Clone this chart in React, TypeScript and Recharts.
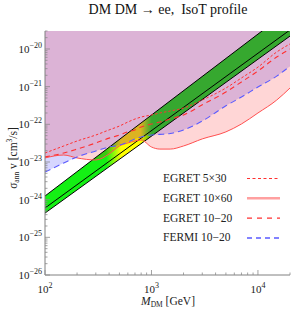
import React from 'react';
import { ComposedChart, Area, Line, XAxis, YAxis } from 'recharts';

// ---- data ----
const masses = [100, 150, 200, 300, 400, 500, 600, 700, 800, 1000, 1200, 1500, 2000, 3000, 5000, 7000, 10000, 15000, 20000];
const fermi1020 = [5.4e-24, 9.4e-24, 1.36e-23, 1.96e-23, 2.5e-23, 2.8e-23, 3.4e-23, 4.1e-23, 4.6e-23, 5.2e-23, 5.4e-23, 5.7e-23, 7.1e-23, 1.22e-22, 3.1e-22, 5.3e-22, 9.8e-22, 1.9e-21, 3.5e-21];
const egret10x60 = [1.28e-23, 1.53e-23, 1.28e-23, 1.13e-23, 1.63e-23, 2.66e-23, 3.2e-23, 3.6e-23, 3.84e-23, 2.5e-23, 2.2e-23, 2.2e-23, 2.66e-23, 4.1e-23, 6.3e-23, 1.02e-22, 2.0e-22, 4.4e-22, 9.2e-22];
const egret5x30 = [1.73e-23, 2.66e-23, 3.6e-23, 5.2e-23, 7.1e-23, 9.0e-23, 1.15e-22, 1.38e-22, 1.56e-22, 1.77e-22, 2.0e-22, 2.26e-22, 2.7e-22, 4.4e-22, 9.2e-22, 1.7e-21, 3.3e-21, 8.3e-21, 1.36e-20];
const egret1020 = [1.36e-23, 1.73e-23, 2.2e-23, 3.2e-23, 4.3e-23, 5.2e-23, 6.3e-23, 7.1e-23, 8.5e-23, 1.02e-22, 1.15e-22, 1.38e-22, 1.77e-22, 3.3e-22, 7.2e-22, 1.33e-21, 2.6e-21, 6.1e-21, 1.0e-20];

const bandMasses = [100, 20000];
const bandUpper = [1.25e-24, 1.1e-19];
const bandMid = [6.0e-25, 3.2e-20];
const bandLower = [4.4e-25, 2.2e-20];

const xMajor = [100, 1000, 10000];
const yMajor = [1e-26, 1e-25, 1e-24, 1e-23, 1e-22, 1e-21, 1e-20];
const minorMult = [2, 3, 4, 5, 6, 7, 8, 9];
const X_DOMAIN = [100, 20000];
const Y_DOMAIN = [1e-26, 3e-20];

const legendNames = ['EGRET 5×30', 'EGRET 10×60', 'EGRET 10−20', 'FERMI 10−20'];
const title = 'DM DM → ee,\u00A0 IsoT profile';

// ---- derived tables ----
const curveData = masses.map((m, i) => ({
  m,
  fermi: fermi1020[i],
  e1060: egret10x60[i],
  e530: egret5x30[i],
  e1020: egret1020[i],
}));
const bandData = bandMasses.map((m, i) => ({ m, hi: bandUpper[i], mid: bandMid[i], lo: bandLower[i] }));

const xTicks: number[] = [];
xMajor.forEach((d) => { xTicks.push(d); minorMult.forEach((k) => { const v = k * d; if (v <= X_DOMAIN[1]) xTicks.push(v); }); });
const yTicks: number[] = [];
yMajor.forEach((d) => { yTicks.push(d); minorMult.forEach((k) => { const v = k * d; if (v < Y_DOMAIN[1]) yTicks.push(v); }); });

const FONT = "'Liberation Serif', 'Times New Roman', serif";
const GRAY = '#808080';
const TICK = '#8a8a8a';

const isMajor = (arr: number[], v: number) => arr.some((a) => Math.abs(a - v) / a < 1e-6);

const YTickLeft = (p: any) => {
  const { x, y, payload } = p;
  const v = payload.value;
  const major = isMajor(yMajor, v);
  const exp = Math.round(Math.log10(v));
  return (
    <g>
      <line x1={x} x2={x + (major ? 5 : 2.5)} y1={y} y2={y} stroke={TICK} strokeWidth={0.8} />
      {major && (
        <text x={x - 3} y={y + 4} textAnchor="end" fontSize={11} fontFamily={FONT} fill="#222">
          10<tspan dy={-5} fontSize={8}>{'−' + Math.abs(exp)}</tspan>
        </text>
      )}
    </g>
  );
};
const YTickRight = (p: any) => {
  const { x, y, payload } = p;
  const major = isMajor(yMajor, payload.value);
  return <line x1={x} x2={x - (major ? 5 : 2.5)} y1={y} y2={y} stroke={TICK} strokeWidth={0.8} />;
};
const XTickBottom = (p: any) => {
  const { x, y, payload } = p;
  const v = payload.value;
  const major = isMajor(xMajor, v);
  const exp = Math.round(Math.log10(v));
  return (
    <g>
      <line x1={x} x2={x} y1={y} y2={y - (major ? 5 : 2.5)} stroke={TICK} strokeWidth={0.8} />
      {major && (
        <text x={x} y={y + 18} textAnchor="middle" fontSize={11} fontFamily={FONT} fill="#222">
          10<tspan dy={-5} fontSize={8}>{String(exp)}</tspan>
        </text>
      )}
    </g>
  );
};
const XTickTop = (p: any) => {
  const { x, y, payload } = p;
  const major = isMajor(xMajor, payload.value);
  return <line x1={x} x2={x} y1={y} y2={y + (major ? 5 : 2.5)} stroke={TICK} strokeWidth={0.8} />;
};

const legendStyles = [
  { stroke: '#ff3030', dash: '3 2.5', width: 1 },
  { stroke: '#ffa0a0', dash: undefined, width: 2.5 },
  { stroke: '#ff3030', dash: '5 5', width: 1.2 },
  { stroke: '#5a5aff', dash: '5 4', width: 1.5 },
];

export default function App() {
  return (
    <div style={{ position: 'absolute', left: 0, top: 0, width: 294, height: 309, background: '#fff' }}>
      <ComposedChart width={294} height={309} margin={{ top: 31, right: 4, bottom: 0, left: 0 }}>
        <defs>
          <linearGradient id="bandGrad" x1="0" y1="0" x2="1" y2="0">
            <stop offset="0" stopColor="#14f014" />
            <stop offset="0.25" stopColor="#14f014" />
            <stop offset="0.31" stopColor="#ffff00" />
            <stop offset="0.39" stopColor="#ffff00" />
            <stop offset="0.435" stopColor="#14f014" />
            <stop offset="1" stopColor="#14f014" />
          </linearGradient>
        </defs>
        <Area data={bandData} dataKey={(d: any) => [d.lo, d.hi]} type="linear" fill="url(#bandGrad)" fillOpacity={1} stroke="none" isAnimationActive={false} />
        <Area data={curveData} dataKey={(d: any) => [d.fermi, Y_DOMAIN[1]]} type="monotone" fill="#0000ff" fillOpacity={0.16} stroke="none" isAnimationActive={false} />
        <Area data={curveData} dataKey={(d: any) => [d.e1060, Y_DOMAIN[1]]} type="monotone" fill="#ff0000" fillOpacity={0.16} stroke="none" isAnimationActive={false} />
        <Line data={bandData} dataKey="hi" type="linear" stroke="#000" strokeWidth={1} dot={false} isAnimationActive={false} />
        <Line data={bandData} dataKey="mid" type="linear" stroke="#000" strokeWidth={1} dot={false} isAnimationActive={false} />
        <Line data={bandData} dataKey="lo" type="linear" stroke="#000" strokeWidth={1} dot={false} isAnimationActive={false} />
        <Line data={curveData} dataKey="e1060" type="monotone" stroke="#ff5050" strokeWidth={1} dot={false} isAnimationActive={false} />
        <Line data={curveData} dataKey="fermi" type="monotone" stroke="#5a5aff" strokeWidth={1.1} strokeDasharray="6 4" dot={false} isAnimationActive={false} />
        <Line data={curveData} dataKey="e1020" type="monotone" stroke="#ff3030" strokeWidth={1.1} strokeDasharray="5 4" dot={false} isAnimationActive={false} />
        <Line data={curveData} dataKey="e530" type="monotone" stroke="#ff3030" strokeWidth={1} strokeDasharray="2.5 2" dot={false} isAnimationActive={false} />
        <XAxis dataKey="m" type="number" scale="log" domain={X_DOMAIN} allowDataOverflow ticks={xTicks} interval={0} height={34} tickSize={0} tickMargin={0} tickLine={false} axisLine={{ stroke: GRAY }} tick={(p: any) => <XTickBottom {...p} />} />
        <XAxis xAxisId="top" orientation="top" dataKey="m" type="number" scale="log" domain={X_DOMAIN} allowDataOverflow ticks={xTicks} interval={0} height={0} tickSize={0} tickMargin={0} tickLine={false} axisLine={{ stroke: GRAY }} tick={(p: any) => <XTickTop {...p} />} />
        <YAxis type="number" scale="log" domain={Y_DOMAIN} allowDataOverflow ticks={yTicks} interval={0} width={45} tickSize={0} tickMargin={0} tickLine={false} axisLine={{ stroke: GRAY }} tick={(p: any) => <YTickLeft {...p} />} />
        <YAxis yAxisId="right" orientation="right" type="number" scale="log" domain={Y_DOMAIN} allowDataOverflow ticks={yTicks} interval={0} width={0} tickSize={0} tickMargin={0} tickLine={false} axisLine={{ stroke: GRAY }} tick={(p: any) => <YTickRight {...p} />} />
        <text x={168} y={14} textAnchor="middle" fontSize={14} fontFamily={FONT} fill="#111">{title}</text>
        <text transform="rotate(-90)" x={-158} y={17} textAnchor="middle" fontSize={11.5} fontFamily={FONT} fill="#222">
          σ<tspan fontSize={7.5} dy={2}>ann</tspan><tspan dy={-2}>{' v [cm'}</tspan><tspan fontSize={7.5} dy={-5}>3</tspan><tspan dy={5}>/s]</tspan>
        </text>
        <text x={168} y={305} textAnchor="middle" fontSize={11.5} fontFamily={FONT} fill="#222">
          <tspan fontStyle="italic">M</tspan><tspan fontSize={7.5} dy={2}>DM</tspan><tspan dy={-2}>{' [GeV]'}</tspan>
        </text>
        <g>
          {legendNames.map((n, i) => (
            <g key={n}>
              <text x={163} y={182 + i * 19.8} fontSize={11.5} fontFamily={FONT} fill="#222">{n}</text>
              <line x1={247} x2={280} y1={178.5 + i * 19.8} y2={178.5 + i * 19.8} stroke={legendStyles[i].stroke} strokeWidth={legendStyles[i].width} strokeDasharray={legendStyles[i].dash} />
            </g>
          ))}
        </g>
      </ComposedChart>
    </div>
  );
}
